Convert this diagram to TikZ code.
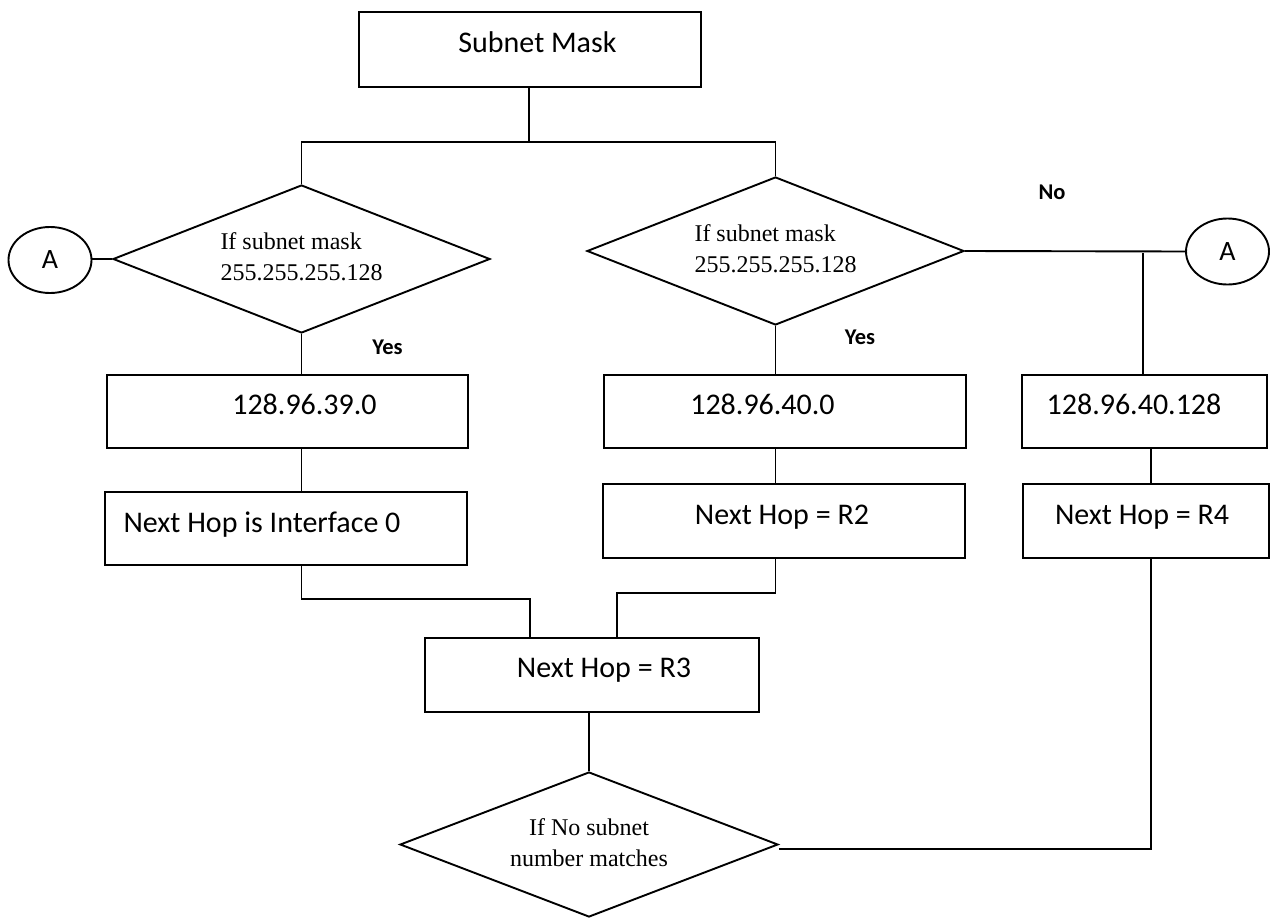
\documentclass[tikz,border=0pt]{standalone}
\usepackage{fontspec}
\setmainfont{Liberation Serif}
\newfontfamily\calibfont{Carlito}
\usetikzlibrary{shapes.geometric}
\begin{document}
\begin{tikzpicture}[x=1pt,y=-1pt,
  line width=1.9pt,
  boxnode/.style={draw, rectangle, inner sep=0pt, line width=1.9pt},
  boxtext/.style={anchor=base, inner sep=0pt, font=\calibfont\fontsize{30}{36}\selectfont},
  decision/.style={draw, diamond, aspect=2.5, inner sep=0pt, line width=1.9pt,
                   font=\fontsize{24}{31}\selectfont},
  connector/.style={draw, ellipse, inner sep=0pt, minimum width=83pt, minimum height=66pt,
                    line width=1.9pt, font=\calibfont\fontsize{28}{34}\selectfont},
  answer/.style={inner sep=0pt, font=\calibfont\bfseries\fontsize{22.5}{27}\selectfont},
]
\useasboundingbox[fill=white] (0,0) rectangle (1271,918);

% top box
\node[boxnode, minimum width=342pt, minimum height=75pt] (sm) at (530,49.5) {};
\node[boxtext] (smt) at (537.5,52) {Subnet Mask};

% two decisions on the subnet mask
\node[decision, align=left, minimum width=377pt, minimum height=148pt] (dl) at (301.5,259)
  {\strut If subnet mask\\255.255.255.128\strut};
\node[decision, align=left, minimum width=377pt, minimum height=148pt] (dr) at (775.5,251)
  {\strut If subnet mask\\255.255.255.128\strut};

% off-page connectors
\node[connector] (al) at (50,260) {\raisebox{-3pt}{A}};
\node[connector] (ar) at (1227.5,251.5) {\raisebox{-4pt}{A}};

% left column
\node[boxnode, minimum width=361pt, minimum height=73pt] (b1) at (287.5,411.5) {};
\node[boxtext] (b1t) at (304.5,414.5) {128.96.39.0};
\node[boxnode, minimum width=362pt, minimum height=73pt] (b2) at (286,528.5) {};
\node[boxtext] (b2t) at (262,532.5) {Next Hop is Interface 0};

% middle column
\node[boxnode, minimum width=362pt, minimum height=73pt] (b3) at (785,411.5) {};
\node[boxtext] (b3t) at (762.5,414.5) {128.96.40.0};
\node[boxnode, minimum width=362pt, minimum height=74pt] (b4) at (784,521) {};
\node[boxtext] (b4t) at (782,524.5) {Next Hop = R2};

% right column
\node[boxnode, minimum width=245pt, minimum height=73pt] (b5) at (1144.5,411.5) {};
\node[boxtext] (b5t) at (1134,414.5) {128.96.40.128};
\node[boxnode, minimum width=246pt, minimum height=74pt] (b6) at (1146,521) {};
\node[boxtext] (b6t) at (1142,524.5) {Next Hop = R4};

% merge box and final decision
\node[boxnode, minimum width=334pt, minimum height=74pt] (b7) at (592,675) {};
\node[boxtext] (b7t) at (604,677.5) {Next Hop = R3};
\node[decision, align=center, minimum width=378pt, minimum height=145pt] (db) at (589,844.5)
  {\strut If No subnet\\number matches\strut};

% branch labels
\node[answer] (yl) at (387.5,347) {Yes};
\node[answer] (yr) at (860,337) {Yes};
\node[answer] (no) at (1052,192) {No};

% junction points
\coordinate (split) at (529,142);
\coordinate (jl) at (530,599);
\coordinate (jm) at (617,593);
\coordinate (tap) at (1143,253);
\coordinate (rr) at (1151,849);

% connectors
\draw (sm.south -| split) -- (split);
\draw (dl.north) -- (dl.north |- split) -- (dr.north |- split) -- (dr.north);
\draw (dl.west) -- (dl.west -| al.east);
\draw (dl.south) -- (dl.south |- b1.north);
\draw (b1.south -| dl.south) -- (b2.north -| dl.south);
\draw (b2.south -| dl.south) |- (jl) -- (jl |- b7.north);
\draw (dr.south) -- (dr.south |- b3.north);
\draw (b3.south -| dr.south) -- (b4.north -| dr.south);
\draw (b4.south -| dr.south) |- (jm) -- (jm |- b7.north);
\draw (dr.east) -- (ar.west);
\draw (tap) -- (tap |- b5.north);
\draw (b5.south -| rr) -- (b6.north -| rr);
\draw (b6.south -| rr) -- (rr) -- (rr -| db.east);
\draw (b7.south -| db.north) -- (db.north);
\end{tikzpicture}
\end{document}
